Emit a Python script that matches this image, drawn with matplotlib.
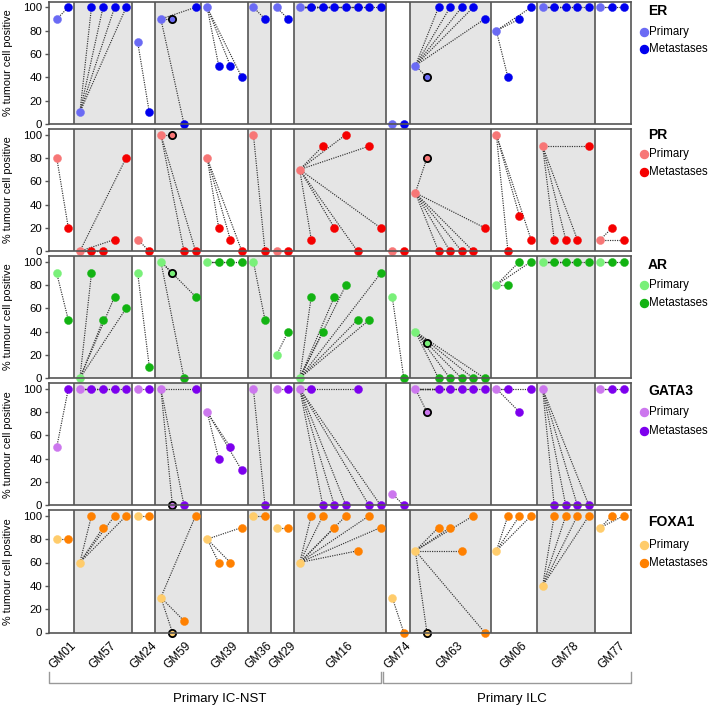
import matplotlib.pyplot as plt
from matplotlib.transforms import blended_transform_factory

plt.rcParams.update({
    "font.family": ["Liberation Sans", "DejaVu Sans"],
    "font.size": 8.6,
})

# ---------------------------------------------------------------------------
# Data (% tumour cell positive)
# ---------------------------------------------------------------------------
PATIENTS = ["GM01", "GM57", "GM24", "GM59", "GM39", "GM36", "GM29", "GM16",
            "GM74", "GM63", "GM06", "GM78", "GM77"]
GROUPS = ["Primary IC-NST", "Primary ILC"]
GROUP_SIZES = [8, 5]
MATCHED_PATIENTS = ["GM59", "GM63"]     # sample drawn with black edge

MARKERS = ["ER", "PR", "AR", "GATA3", "FOXA1"]

ER_PRIMARY = [90, 10, 70, 90, 100, 100, 100, 100, 0, 50, 80, 100, 100]
ER_MATCHED = [90, 40]
ER_METS = [[100], [100, 100, 100, 100], [10], [0, 100], [50, 50, 40], [90], [90],
           [100, 100, 100, 100, 100, 100, 100], [0], [100, 100, 100, 100, 90],
           [40, 90, 100], [100, 100, 100, 100], [100, 100]]

PR_PRIMARY = [80, 0, 10, 100, 80, 100, 0, 70, 0, 50, 100, 90, 10]
PR_MATCHED = [100, 80]
PR_METS = [[20], [0, 0, 10, 80], [0], [0, 0], [20, 10, 0], [0], [0],
           [10, 90, 20, 100, 0, 90, 20], [0], [0, 0, 0, 0, 20],
           [0, 30, 10], [10, 10, 10, 90], [20, 10]]

AR_PRIMARY = [90, 0, 90, 100, 100, 100, 20, 0, 70, 40, 80, 100, 100]
AR_MATCHED = [90, 30]
AR_METS = [[50], [90, 50, 70, 60], [10], [0, 70], [100, 100, 100], [50], [40],
           [70, 40, 70, 80, 50, 50, 90], [0], [0, 0, 0, 0, 0],
           [80, 100, 100], [100, 100, 100, 100], [100, 100]]

GATA3_PRIMARY = [50, 100, 100, 100, 80, 100, 100, 100, 10, 100, 100, 100, 100]
GATA3_MATCHED = [0, 80]
GATA3_METS = [[100], [100, 100, 100, 100], [100], [0, 100], [40, 50, 30], [0], [100],
              [100, 0, 0, 0, 100, 0, 0], [0], [100, 100, 100, 100, 100],
              [100, 80, 100], [0, 0, 0, 0], [100, 100]]

FOXA1_PRIMARY = [80, 60, 100, 30, 80, 100, 90, 60, 30, 70, 70, 40, 90]
FOXA1_MATCHED = [0, 0]
FOXA1_METS = [[80], [100, 90, 100, 100], [100], [10, 100], [60, 60, 90], [100], [90],
              [100, 100, 90, 100, 70, 100, 90], [0], [90, 90, 70, 100, 0],
              [100, 100, 100], [100, 100, 100, 100], [100, 100]]

DATA = {
    "ER": (ER_PRIMARY, ER_MATCHED, ER_METS),
    "PR": (PR_PRIMARY, PR_MATCHED, PR_METS),
    "AR": (AR_PRIMARY, AR_MATCHED, AR_METS),
    "GATA3": (GATA3_PRIMARY, GATA3_MATCHED, GATA3_METS),
    "FOXA1": (FOXA1_PRIMARY, FOXA1_MATCHED, FOXA1_METS),
}

COLORS = {   # (primary, metastases)
    "ER": ("#6a6af4", "#0000ee"),
    "PR": ("#f77676", "#f50000"),
    "AR": ("#79f079", "#12b312"),
    "GATA3": ("#cc77ee", "#7d00ee"),
    "FOXA1": ("#ffcc6b", "#ff8000"),
}

# ---------------------------------------------------------------------------
# Layout (pixels)
# ---------------------------------------------------------------------------
W, H = 709, 707
AX_LEFT, AX_RIGHT = 49, 631
PANEL_H = 122.5
PANEL_BOTTOMS = [124, 251.2, 378.3, 505.4, 632.5]
LEGEND_OFFSETS = [(9, 30, 47), (6, 25, 43), (9, 29, 47), (8, 29, 48), (12, 35, 53)]
XLIM = (-0.67, 49.64)
FRAME = "#555555"
SHADE = "#e5e5e5"
LINE = "#333333"
MS = 5.8

# slot positions for each patient
starts, ends = [], []
pos = 0
for i, p in enumerate(PATIENTS):
    n = 1 + (p in MATCHED_PATIENTS) + len(ER_METS[i])
    starts.append(pos)
    ends.append(pos + n - 1)
    pos += n

fig = plt.figure(figsize=(W / 100, H / 100), dpi=100)

axes = []
for k, marker in enumerate(MARKERS):
    b = PANEL_BOTTOMS[k]
    ax = fig.add_axes([AX_LEFT / W, 1 - b / H, (AX_RIGHT - AX_LEFT) / W, PANEL_H / H])
    axes.append(ax)
    prim, matched, mets = DATA[marker]
    c_prim, c_met = COLORS[marker]

    # background and separators
    for i in range(len(PATIENTS)):
        x0 = XLIM[0] if i == 0 else starts[i] - 0.5
        x1 = XLIM[1] if i == len(PATIENTS) - 1 else ends[i] + 0.5
        if i % 2 == 1:
            ax.axvspan(x0, x1, color=SHADE, lw=0, zorder=0)
        if i > 0:
            ax.axvline(x0, color=FRAME, lw=1.2, zorder=1)

    for i, p in enumerate(PATIENTS):
        x = starts[i]
        pts = []
        if p in MATCHED_PATIENTS:
            m_idx = MATCHED_PATIENTS.index(p)
            pts.append((x + 1, matched[m_idx], True))
            x += 1
        for j, v in enumerate(mets[i]):
            pts.append((x + 1 + j, v, False))
        for mx, mv, _ in pts:
            ax.plot([starts[i], mx], [prim[i], mv], ls=(0, (1, 1)), lw=0.85,
                    color=LINE, zorder=2, clip_on=False)
        for mx, mv, special in pts:
            if special:
                ax.plot(mx, mv, "o", ms=5.2, mfc=c_prim, mec="black", mew=1.3,
                        zorder=4, clip_on=False)
            else:
                ax.plot(mx, mv, "o", ms=MS, mfc=c_met, mec=c_met, mew=0.3,
                        zorder=3, clip_on=False)
        ax.plot(starts[i], prim[i], "o", ms=MS, mfc=c_prim, mec=c_prim, mew=0.3,
                zorder=3, clip_on=False)

    ax.set_xlim(*XLIM)
    ax.set_ylim(0, 105)
    ax.set_yticks([0, 20, 40, 60, 80, 100])
    ax.tick_params(axis="y", length=3, width=1, color=FRAME, pad=2, labelsize=8.2)
    ax.tick_params(axis="x", length=0)
    for s in ax.spines.values():
        s.set_color(FRAME)
        s.set_linewidth(1.2)
        s.set_zorder(5)
    ax.set_xticks([])

    # legend
    t_off, p_off, m_off = LEGEND_OFFSETS[k]
    tr = ax.transAxes
    ax.text(1.029, 1 - t_off / PANEL_H, marker, transform=tr, fontsize=10,
            fontweight="bold", va="center", ha="left")
    for off, col, lab in [(p_off, c_prim, "Primary"), (m_off, c_met, "Metastases")]:
        ax.plot(1.0225, 1 - off / PANEL_H, "o", ms=MS, color=col, transform=tr,
                clip_on=False)
        ax.text(1.031, 1 - off / PANEL_H, lab, transform=tr, fontsize=8.3,
                va="center", ha="left")

    fig.text(8.3 / W, 1 - (b - PANEL_H / 2) / H, "% tumour cell positive",
             rotation=90, ha="center", va="center", fontsize=7.8)

# patient labels
ax = axes[-1]
ax.set_xticks([(s + e) / 2 for s, e in zip(starts, ends)])
ax.set_xticklabels(PATIENTS, rotation=45, ha="center", fontsize=8.6)
ax.tick_params(axis="x", length=0, pad=5)

# group brackets
tr = blended_transform_factory(ax.transData, fig.transFigure)
y_line = 1 - 683 / H
y_tick = 1 - 672 / H
y_text = 1 - 699 / H
bracket_x = [(XLIM[0], 28.0), (28.23, XLIM[1])]
for g, name in enumerate(GROUPS):
    x0, x1 = bracket_x[g]
    ax.plot([x0, x0, x1, x1], [y_tick, y_line, y_line, y_tick], color="#999999",
            lw=1, transform=tr, clip_on=False)
    ax.text((x0 + x1) / 2 + 0.4, y_text, name, transform=tr, ha="center",
            va="center", fontsize=9.5)

fig.savefig("out.png", dpi=100)
